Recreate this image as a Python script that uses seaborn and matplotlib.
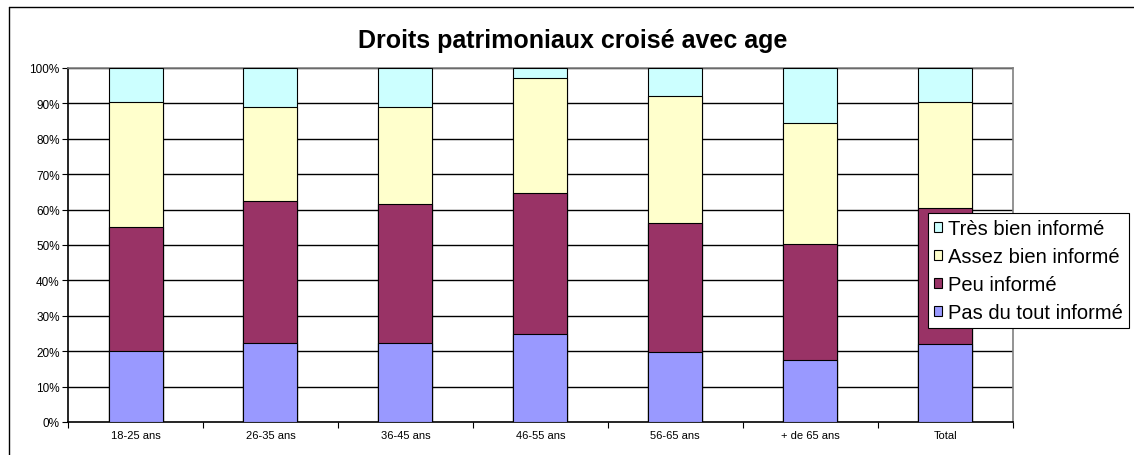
import numpy as np
import pandas as pd
import matplotlib
matplotlib.use("Agg")
import matplotlib.pyplot as plt
import seaborn as sns
from matplotlib.patches import Patch
from matplotlib.lines import Line2D
from matplotlib.ticker import FixedLocator, FuncFormatter

# data (percent of respondents per age group)
ages = ["18-25 ans", "26-35 ans", "36-45 ans", "46-55 ans", "56-65 ans", "+ de 65 ans", "Total"]
pas_du_tout = [20.0, 22.3, 22.3, 24.9, 19.9, 17.4, 22.0]
peu = [35.2, 40.1, 39.2, 39.8, 36.2, 33.0, 38.5]
assez_bien = [35.3, 26.7, 27.6, 32.4, 36.1, 34.2, 30.0]
tres_bien = [9.5, 10.9, 10.9, 2.9, 7.8, 15.4, 9.5]

series_names = ["Pas du tout informé", "Peu informé", "Assez bien informé", "Très bien informé"]
colors = ["#9999FF", "#993366", "#FFFFCC", "#CCFFFF"]

sns.set_style("white")
plt.rcParams["font.family"] = ["Liberation Sans", "DejaVu Sans"]
plt.rcParams["text.color"] = "black"
plt.rcParams["xtick.color"] = "black"
plt.rcParams["ytick.color"] = "black"

fig = plt.figure(figsize=(11.34, 4.56), dpi=100)
ax = fig.add_axes([0.060, 0.0724, 0.833, 0.7763])

# stacked bars: draw cumulative totals from the top layer down
layers = [pas_du_tout, peu, assez_bien, tres_bien]
cum = np.cumsum(np.array(layers), axis=0)
for i in range(len(layers) - 1, -1, -1):
    df = pd.DataFrame({"age": ages, "value": cum[i]})
    sns.barplot(data=df, x="age", y="value", color=colors[i], width=0.4,
                edgecolor="black", linewidth=0.8, saturation=1, ax=ax, zorder=3)

ax.set_ylim(0, 100)
ax.set_xlim(-0.5, len(ages) - 0.5)
ax.set_xlabel("")
ax.set_ylabel("")

# grid
ax.yaxis.set_major_locator(FixedLocator(np.arange(0, 101, 10)))
ax.yaxis.set_major_formatter(FuncFormatter(lambda v, p: f"{int(v)}%"))
for v in np.arange(10, 101, 10):
    ax.axhline(v, color="black", linewidth=1.0, zorder=1)

ax.tick_params(axis="y", labelsize=8.5, length=4, direction="out", left=True, width=0.8, pad=2)
ax.tick_params(axis="x", which="major", labelsize=8, length=0, pad=6)
ax.xaxis.set_minor_locator(FixedLocator(np.arange(-0.5, len(ages), 1)))
ax.tick_params(axis="x", which="minor", length=4, direction="out", bottom=True, width=0.8)

for side in ["left", "bottom"]:
    ax.spines[side].set_color("black")
    ax.spines[side].set_linewidth(1.2)
for side in ["top", "right"]:
    ax.spines[side].set_color("#808080")
    ax.spines[side].set_linewidth(1.2)

# title
fig.text(0.505, 0.895, "Droits patrimoniaux croisé avec age", ha="center", va="baseline",
         fontsize=18, fontweight="bold", color="black")

# legend
handles = [Patch(facecolor=colors[i], edgecolor="black", linewidth=0.8, label=series_names[i])
           for i in range(3, -1, -1)]
leg = fig.legend(handles=handles, loc="upper left", bbox_to_anchor=(0.818, 0.531),
                 fontsize=14.5, frameon=True, fancybox=False, framealpha=1, edgecolor="black",
                 handlelength=0.42, handleheight=0.42, handletextpad=0.3, labelspacing=0.45,
                 borderpad=0.3, borderaxespad=0)
leg.get_frame().set_linewidth(0.8)

# outer chart border (only left and top edges are inside the picture)
x0 = 8.5 / 1134
y0 = 1 - 7.5 / 456
fig.add_artist(Line2D([x0, x0], [0, y0], transform=fig.transFigure, color="black", linewidth=1.0))
fig.add_artist(Line2D([x0, 1], [y0, y0], transform=fig.transFigure, color="black", linewidth=1.0))

fig.savefig("out.png", dpi=100)
